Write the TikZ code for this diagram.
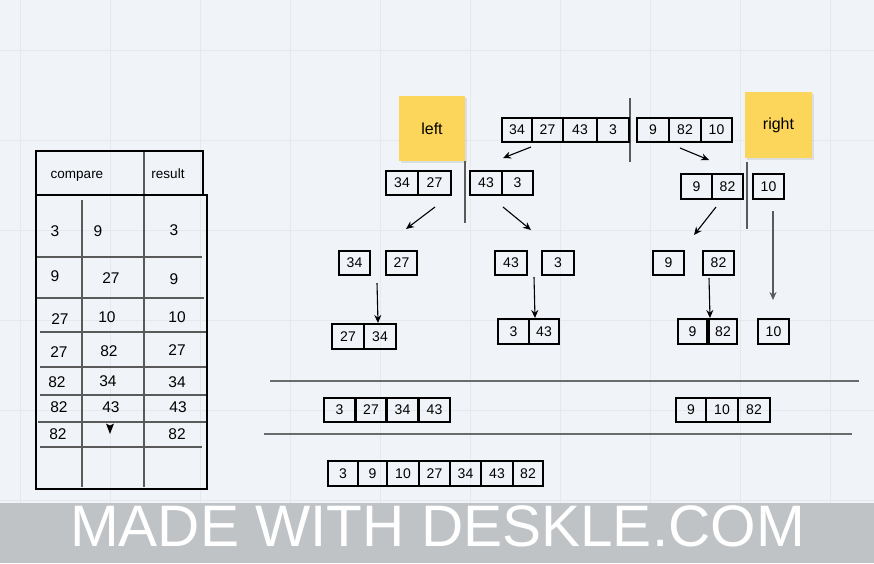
\documentclass[tikz,border=0pt]{standalone}
\usepackage{fontspec}
\setmainfont{Liberation Sans}
\usetikzlibrary{arrows.meta,shadows}
\definecolor{bgc}{HTML}{F0F3F7}
\definecolor{gridc}{HTML}{E5E8EC}
\definecolor{bandc}{HTML}{BFC3C6}
\definecolor{notec}{HTML}{FBD65B}
\definecolor{linec}{HTML}{5A5A5A}
\begin{document}
\begin{tikzpicture}[x=1pt,y=-1pt,
  cell/.style={draw=black, line width=2pt, minimum height=24pt, inner sep=0pt,
    font=\fontsize{14}{14}\selectfont},
  tnum/.style={inner sep=0pt, font=\fontsize{15.5}{16}\selectfont},
  thead/.style={inner sep=0pt, font=\fontsize{13.5}{14}\selectfont},
  note/.style={fill=notec, inner sep=0pt, minimum width=66pt, minimum height=65pt,
    font=\fontsize{16}{16}\selectfont,
    drop shadow={opacity=0.18, shadow xshift=1.5pt, shadow yshift=-1.5pt}},
  arr/.style={-{Stealth[length=8pt,width=7pt]}, line width=1.1pt, black},
  sep/.style={linec, line width=1.5pt},
  tline/.style={linec, line width=1.2pt}]
\useasboundingbox (0,0) rectangle (874,563);
\fill[bgc] (0,0) rectangle (874,563);
% grid
\foreach \gx in {20,110,...,830} \draw[gridc, line width=0.8pt] (\gx,0) -- (\gx,563);
\foreach \gy in {50,140,...,500} \draw[gridc, line width=0.8pt] (0,\gy) -- (874,\gy);

% ---------- table ----------
\draw[tline] (144,151) -- (144,487);
\draw[tline] (82,200) -- (82,487);
\draw[tline] (37,257) -- (202,257);
\draw[tline] (37,298) -- (204,298);
\draw[tline] (40,332) -- (206,332);
\draw[tline] (40,367) -- (206,367);
\draw[tline] (40,395) -- (206,395);
\draw[tline] (38,422) -- (206,422);
\draw[tline] (40,447) -- (202,447);
\draw[black, line width=2pt] (36,151) rectangle (203,195);
\draw[black, line width=2pt] (36,195) rectangle (207,489);
\node[thead, anchor=base] (hc) at (77,178) {compare};
\node[thead, anchor=base] (hr) at (168,178) {result};
\node[tnum] (t11) at (55,231) {3};
\node[tnum] (t12) at (98,231) {9};
\node[tnum] (t13) at (174,230) {3};
\node[tnum] (t21) at (55,276) {9};
\node[tnum] (t22) at (111,278) {27};
\node[tnum] (t23) at (174,279) {9};
\node[tnum] (t31) at (60,319) {27};
\node[tnum] (t32) at (107,317) {10};
\node[tnum] (t33) at (177,317) {10};
\node[tnum] (t41) at (59,352) {27};
\node[tnum] (t42) at (109,351) {82};
\node[tnum] (t43) at (177,350) {27};
\node[tnum] (t51) at (57,382) {82};
\node[tnum] (t52) at (108,381) {34};
\node[tnum] (t53) at (177,382) {34};
\node[tnum] (t61) at (59,407) {82};
\node[tnum] (t62) at (111,407) {43};
\node[tnum] (t63) at (178,407) {43};
\node[tnum] (t71) at (58,434) {82};
\node[tnum] (t73) at (177,434) {82};
\fill[black] (106,423.5) -- (110,425.5) -- (114,423.5) -- (110,434) -- cycle;

% ---------- sticky notes ----------
\node[note] (left) at (432,128.5) {left};
\node[note, minimum width=67pt, minimum height=66pt] (right) at (778.5,125) {\raisebox{-1pt}{right}};

% ---------- separators ----------
\draw[sep] (630,98) -- (630,162);
\draw[sep] (465,161) -- (465,223);
\draw[sep] (747,162) -- (747,229);
\draw[linec!90, line width=2pt] (270,381) -- (859,381);
\draw[linec!90, line width=2pt] (264,434) -- (852,434);

% ---------- row 0 ----------
\node[cell, minimum width=30pt] (r0a) at (517,130) {34};
\node[cell, minimum width=31pt] (r0b) at (547.5,130) {27};
\node[cell, minimum width=34pt] (r0c) at (580,130) {43};
\node[cell, minimum width=32pt] (r0d) at (613,130) {3};
\node[cell, minimum width=32pt] (r0e) at (653,130) {9};
\node[cell, minimum width=32pt] (r0f) at (685,130) {82};
\node[cell, minimum width=31pt] (r0g) at (716.5,130) {10};

% ---------- row 1 ----------
\node[cell, minimum width=32pt] (r1a) at (402,183) {34};
\node[cell, minimum width=33pt] (r1b) at (434.5,183) {27};
\node[cell, minimum width=32pt] (r1c) at (486,183) {43};
\node[cell, minimum width=31pt] (r1d) at (517.5,183) {3};
\node[cell, minimum width=31pt, minimum height=25pt] (r1e) at (696.5,186.5) {9};
\node[cell, minimum width=31pt, minimum height=25pt] (r1f) at (727.5,186.5) {82};
\node[cell, minimum width=31pt, minimum height=25pt] (r1g) at (768.5,186.5) {10};

% ---------- row 2 ----------
\node[cell, minimum width=31pt] (r2a) at (354.5,263) {34};
\node[cell, minimum width=31pt] (r2b) at (401.5,263) {27};
\node[cell, minimum width=32pt] (r2c) at (511,263) {43};
\node[cell, minimum width=32pt] (r2d) at (558,263) {3};
\node[cell, minimum width=31pt] (r2e) at (668.5,263) {9};
\node[cell, minimum width=31pt] (r2f) at (718.5,263) {82};

% ---------- row 3 ----------
\node[cell, minimum width=32pt, minimum height=25pt] (r3a) at (348,336.5) {27};
\node[cell, minimum width=32pt, minimum height=25pt] (r3b) at (380,336.5) {34};
\node[cell, minimum width=31pt, minimum height=25pt] (r3c) at (513.5,331.5) {3};
\node[cell, minimum width=30pt, minimum height=25pt] (r3d) at (544,331.5) {43};
\node[cell, minimum width=29pt, minimum height=25pt] (r3e) at (692.5,331.5) {9};
\node[cell, minimum width=28pt, minimum height=25pt] (r3f) at (723,331.5) {82};
\node[cell, minimum width=31pt, minimum height=25pt] (r3g) at (773.5,331.5) {10};

% ---------- row 4 ----------
\node[cell, minimum width=31pt] (r4a) at (339.5,410) {3};
\node[cell, minimum width=30pt] (r4b) at (371,410) {27};
\node[cell, minimum width=31pt] (r4c) at (402.5,410) {34};
\node[cell, minimum width=31pt] (r4d) at (434.5,410) {43};
\node[cell, minimum width=30pt] (r4e) at (691,410) {9};
\node[cell, minimum width=32pt] (r4f) at (722,410) {10};
\node[cell, minimum width=32pt] (r4g) at (754,410) {82};

% ---------- row 5 ----------
\node[cell, minimum width=30pt, minimum height=25pt] (r5a) at (343,473.5) {3};
\node[cell, minimum width=29pt, minimum height=25pt] (r5b) at (372.5,473.5) {9};
\node[cell, minimum width=32pt, minimum height=25pt] (r5c) at (403,473.5) {10};
\node[cell, minimum width=31pt, minimum height=25pt] (r5d) at (434.5,473.5) {27};
\node[cell, minimum width=31pt, minimum height=25pt] (r5e) at (465.5,473.5) {34};
\node[cell, minimum width=32pt, minimum height=25pt] (r5f) at (497,473.5) {43};
\node[cell, minimum width=30pt, minimum height=25pt] (r5g) at (528,473.5) {82};

% ---------- arrows ----------
\coordinate (a1s) at (531,147); \coordinate (a1e) at (503,158);
\coordinate (a2s) at (680,148); \coordinate (a2e) at (709,160);
\coordinate (a3s) at (435,207); \coordinate (a3e) at (406,229);
\coordinate (a4s) at (503,207); \coordinate (a4e) at (531,230);
\coordinate (a5s) at (716,207); \coordinate (a5e) at (694,235);
\coordinate (a6s) at (773,211); \coordinate (a6e) at (773,300);
\coordinate (a7s) at (377,283); \coordinate (a7e) at (378,323);
\coordinate (a8s) at (534,277); \coordinate (a8e) at (535,318);
\coordinate (a9s) at (709,278); \coordinate (a9e) at (710,318);
\draw[arr] (a1s) -- (a1e);
\draw[arr] (a2s) -- (a2e);
\draw[arr] (a3s) -- (a3e);
\draw[arr] (a4s) -- (a4e);
\draw[arr] (a5s) -- (a5e);
\draw[arr, draw=linec, fill=linec, line width=1.5pt] (a6s) -- (a6e);
\draw[arr] (a7s) -- (a7e);
\draw[arr] (a8s) -- (a8e);
\draw[arr] (a9s) -- (a9e);

% ---------- watermark ----------
\fill[bandc] (0,503) rectangle (874,563);
\node[white, inner sep=0pt, font=\fontsize{58.5}{60}\selectfont] (wm) at (437.5,526.5) {MADE WITH DESKLE.COM};
\end{tikzpicture}
\end{document}
